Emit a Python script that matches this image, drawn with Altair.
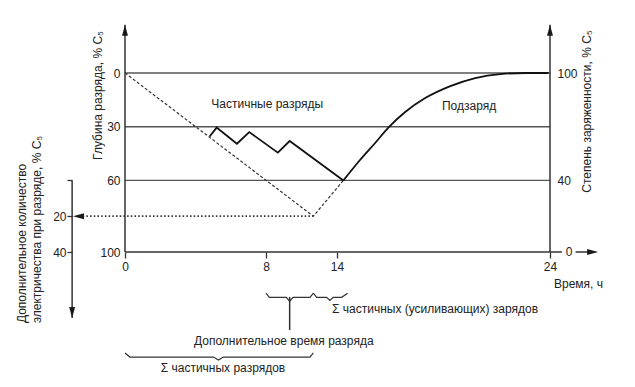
import altair as alt
import pandas as pd

FONT = "Liberation Sans"
INK = "#222222"
LINE = "#333333"

# ---------------- data ----------------
hour_ticks = [0, 8, 14, 24]            # time axis, h
depth_ticks = [0, 30, 60, 100]         # depth of discharge, % C5
grid_depths = [0, 30, 60]
soc_ticks = [100, 40, 0]               # state of charge (right axis); depth = 100 - soc
extra_ticks = [0, 20, 40]              # extra discharged charge; depth = 60 + value

# partial discharges (zig-zag)
partial_h = [4.8, 5.2, 6.35, 7.05, 9.0, 10.0, 14.3]
partial_d = [35.5, 30.5, 39.5, 33.0, 44.5, 38.0, 60.0]

# re-charge curve
charge_h = [14.3, 15.08, 15.79, 16.4, 17.2, 18.14, 19.32, 20.49, 21.67, 22.85, 23.93]
charge_d = [60.0, 48.6, 39.1, 30.7, 21.8, 14.0, 7.3, 2.8, 0.6, 0.0, 0.0]

# equivalent continuous discharge (dashed)
cont_h = [0, 12, 14.3]
cont_d = [0, 80, 60]

extra_read_h = [12, -2.4]              # dotted read-off line to the extra axis
extra_read_d = [80, 80]

# braces below the time axis: start, end, middle (h)
brace_start = [8, 12, 0]
brace_end = [12, 14.5, 12]
brace_mid = [10, 13.4, 5.3]
brace_top = [123, 123, 156.4]          # depth of the curled ends
brace_dip = [4.5, 4.0, 4.0]

# ---------------- scales ----------------
xs = alt.Scale(domain=hour_ticks, range=[0, 141, 212, 425], nice=False, zero=False)
ys = alt.Scale(domain=[0, 100], range=[0, 179], nice=False, zero=False)

def X(f="h"):
    return alt.X(f"{f}:Q", scale=xs, axis=None)

def Y(f="d"):
    return alt.Y(f"{f}:Q", scale=ys, axis=None)

lab = dict(labelFont=FONT, labelFontSize=12, labelColor=INK, labelFlush=False,
           labelOverlap=False, labelBound=False, titleFont=FONT, titleFontSize=12,
           titleFontWeight="normal", titleColor=INK, grid=False, domain=False)

# ---------------- axis lines ----------------
top_d = -27
seg = pd.DataFrame({
    "x":  [0, 24, 0, 25.2, -3.0, 10],
    "x2": [0, 24, 24.56, 26.0, -3.0, 10],
    "y":  [top_d, top_d, 100, 100, 60, 125.1],
    "y2": [100, 100, 100, 100, 136.9, 143.6],
})
axes_layer = alt.Chart(seg).mark_rule(color=LINE, strokeWidth=1.5).encode(
    x=alt.X("x:Q", scale=xs, axis=alt.Axis(
        values=hour_ticks, title="Время, ч", ticks=True, tickSize=6, tickColor=LINE,
        tickWidth=1.3, labelPadding=3, format="d", titleX=453, titleY=31,
        titleAlign="center", titleBaseline="middle", **lab)),
    x2="x2:Q",
    y=alt.Y("y:Q", scale=ys, axis=alt.Axis(
        values=depth_ticks, title="Глубина разряда, % C₅", ticks=False, labelPadding=5,
        format="d", titleAngle=270, titleX=-28, titleY=22, titleAlign="center",
        titleBaseline="middle", **lab)),
    y2="y2:Q",
)

grid = alt.Chart(pd.DataFrame({"d": grid_depths, "a": [hour_ticks[0]] * 3,
                               "b": [hour_ticks[-1]] * 3})).mark_rule(
    color="#555555", strokeWidth=1.4).encode(
    x=X("a"), x2="b:Q",
    y=alt.Y("d:Q", scale=ys, axis=alt.Axis(
        orient="right", values=[100 - s for s in soc_ticks if s > 0],
        labelExpr="format(100 - datum.value, 'd')", ticks=False, labelPadding=7,
        title="Степень заряженности, % C₅", titleAngle=270, titleX=36, titleY=38,
        titleAlign="center", titleBaseline="middle", **lab)),
)

# ---------------- arrowheads ----------------
arrows = pd.DataFrame({
    "h": [0, 24, 26.26, -3.0, -2.95],
    "d": [top_d, top_d, 100, 136.9, 80],
    "dir": ["up", "up", "right", "down", "left"],
})
paths = {"up": "M0,0L-0.27,1L0.27,1Z", "down": "M0,0L-0.27,-1L0.27,-1Z",
         "right": "M0,0L-1,-0.27L-1,0.27Z", "left": "M0,0L1,-0.27L1,0.27Z"}
arrow_layer = alt.Chart(arrows).mark_point(filled=True, opacity=1, size=484,
                                            color="#1a1a1a", strokeWidth=0).encode(
    x=X(), y=Y(),
    shape=alt.Shape("dir:N", scale=alt.Scale(domain=list(paths), range=list(paths.values())),
                    legend=None),
)

# ---------------- curves ----------------
partial = alt.Chart(pd.DataFrame({"h": partial_h, "d": partial_d})).mark_line(
    color="#111111", strokeWidth=1.8).encode(x=X(), y=Y())
charge = alt.Chart(pd.DataFrame({"h": charge_h, "d": charge_d})).mark_line(
    color="#111111", strokeWidth=1.8, interpolate="monotone").encode(x=X(), y=Y())
cont = alt.Chart(pd.DataFrame({"h": cont_h, "d": cont_d})).mark_line(
    color=LINE, strokeWidth=1.2, strokeDash=[3, 2]).encode(x=X(), y=Y())
dotted = alt.Chart(pd.DataFrame({"h": extra_read_h, "d": extra_read_d})).mark_line(
    color=LINE, strokeWidth=1.8, strokeDash=[1.5, 2.2]).encode(
    x=X(),
    y=alt.Y("d:Q", scale=ys, axis=alt.Axis(
        orient="left", offset=53, values=[60 + v for v in extra_ticks],
        labelExpr="datum.value == 60 ? '' : format(datum.value - 60, 'd')",
        ticks=True, tickSize=5, tickColor=LINE, tickWidth=1.3, labelPadding=1,
        title=None, **lab)),
)

# ---------------- braces ----------------
rows = []
dx = 0.28
for k, (a, b, m, t, dp) in enumerate(zip(brace_start, brace_end, brace_mid, brace_top, brace_dip)):
    body = t + 2.3
    pts = [(a, t), (a + dx, body), (m - dx, body), (m, t + dp), (m + dx, body), (b - dx, body), (b, t)]
    for i, (h, d) in enumerate(pts):
        rows.append({"id": k, "i": i, "h": h, "d": d})
braces = alt.Chart(pd.DataFrame(rows)).mark_line(color=LINE, strokeWidth=1.2).encode(
    x=X(), y=Y(), detail="id:N", order="i:O")

# ---------------- texts ----------------
center_notes = pd.DataFrame({
    "text": ["Частичные разряды", "Подзаряд", "Дополнительное время разряда",
             "Σ частичных разрядов", str(soc_ticks[-1])],
    "h": [8.1, 20.2, 9.5, 5.56, 24.9],
    "d": [17.3, 18.4, 149.7, 165.0, 100],
})
t_center = alt.Chart(center_notes).mark_text(font=FONT, fontSize=12, color=INK,
                                              align="center", baseline="middle").encode(
    x=X(), y=Y(), text="text:N")
left_notes = pd.DataFrame({"text": ["Σ частичных (усиливающих) зарядов"],
                           "h": [13.58], "d": [131.8]})
t_left = alt.Chart(left_notes).mark_text(font=FONT, fontSize=12, color=INK,
                                          align="left", baseline="middle").encode(
    x=X(), y=Y(), text="text:N")
extra_title = pd.DataFrame({
    "text": ["Дополнительное количество", "электричества при разряде, % C₅"],
    "h": [-5.84, -4.99], "d": [139.7, 139.7],
})
t_extra = alt.Chart(extra_title).mark_text(font=FONT, fontSize=12, color=INK,
                                            align="left", baseline="middle",
                                            angle=270).encode(
    x=X(), y=Y(), text="text:N")

chart = alt.layer(
    grid, axes_layer, cont, dotted, partial, charge, braces, arrow_layer,
    t_center, t_left, t_extra,
).resolve_axis(x="independent", y="independent").properties(
    width=425, height=179,
    padding={"left": 117, "top": 65, "right": 77, "bottom": 128},
    autosize=alt.AutoSizeParams(type="none"),
    background="white",
).configure_view(stroke=None)

chart.save("out.html", embed_options={"renderer": "svg", "actions": False})
